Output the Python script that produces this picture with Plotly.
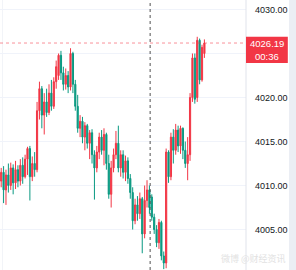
import plotly.graph_objects as go

# ---- data ----
opens = [4010.5, 4011.5, 4009.5, 4011.2, 4010.0, 4012.0, 4010.3, 4011.8, 4010.5, 4012.3,
         4011.0, 4013.0, 4014.2, 4011.0, 4012.5, 4011.8, 4018.5, 4021.0, 4018.0, 4019.5,
         4018.3, 4020.5, 4019.0, 4021.8, 4022.5, 4024.8, 4022.8, 4021.5, 4022.5, 4021.2,
         4025.0, 4021.5, 4019.0, 4016.5, 4017.3, 4015.5, 4016.8, 4014.8, 4016.0, 4013.5,
         4012.0, 4013.8, 4015.5, 4014.0, 4015.8, 4012.5, 4009.0, 4012.0, 4013.5, 4014.8,
         4012.0, 4013.5, 4011.5, 4012.8, 4010.8, 4009.2, 4006.0, 4007.8, 4006.8, 4008.5,
         4004.5, 4008.3, 4009.5, 4008.7, 4006.4, 4005.0, 4003.5, 4005.8, 4002.0, 4001.2,
         4013.8, 4011.0, 4015.5, 4014.0, 4016.3, 4014.5, 4016.5, 4014.0, 4012.5, 4013.5,
         4020.0, 4024.5, 4020.0, 4026.5, 4022.0, 4025.0]
highs = [4012.0, 4012.2, 4011.8, 4012.5, 4012.6, 4012.4, 4012.8, 4012.3, 4013.0, 4013.2,
         4013.5, 4014.4, 4014.5, 4013.3, 4013.8, 4019.5, 4021.8, 4021.3, 4020.5, 4021.0,
         4021.5, 4022.0, 4022.3, 4024.2, 4025.0, 4025.3, 4023.5, 4023.3, 4023.0, 4025.6,
         4025.2, 4022.0, 4020.3, 4018.0, 4017.8, 4017.2, 4017.0, 4016.3, 4016.4, 4014.0,
         4014.5, 4016.0, 4016.3, 4016.5, 4016.0, 4013.5, 4012.8, 4014.2, 4016.2, 4016.8,
         4014.0, 4014.0, 4013.4, 4013.2, 4011.3, 4009.8, 4008.5, 4008.8, 4009.2, 4008.7,
         4010.0, 4010.6, 4010.0, 4009.0, 4006.8, 4005.5, 4006.2, 4006.0, 4002.5, 4014.2,
         4014.0, 4016.0, 4016.4, 4017.0, 4016.8, 4016.8, 4016.6, 4015.0, 4015.5, 4020.5,
         4025.0, 4025.0, 4026.9, 4026.7, 4026.0, 4026.6]
lows = [4009.8, 4008.0, 4007.8, 4009.2, 4009.5, 4009.0, 4009.6, 4009.8, 4010.0, 4010.2,
        4010.8, 4011.2, 4008.3, 4010.5, 4011.0, 4011.5, 4017.5, 4016.5, 4015.8, 4017.8,
        4018.0, 4018.5, 4018.7, 4021.0, 4022.0, 4022.0, 4020.8, 4020.9, 4020.5, 4020.8,
        4020.5, 4018.5, 4016.0, 4015.5, 4014.8, 4014.0, 4014.2, 4013.0, 4012.5, 4008.4,
        4011.5, 4013.0, 4013.5, 4012.3, 4011.8, 4008.5, 4007.5, 4011.5, 4013.0, 4011.5,
        4011.0, 4010.8, 4010.5, 4010.2, 4008.5, 4005.0, 4005.6, 4006.0, 4006.2, 4002.3,
        4004.0, 4007.5, 4006.8, 4006.0, 4004.5, 4003.0, 4002.8, 4001.5, 4000.5, 4000.6,
        4010.3, 4010.6, 4012.5, 4013.5, 4013.8, 4013.6, 4013.0, 4012.0, 4010.6, 4012.8,
        4019.5, 4019.3, 4019.5, 4021.5, 4021.8, 4024.5]
closes = [4011.5, 4009.5, 4011.2, 4010.0, 4012.0, 4010.3, 4011.8, 4010.5, 4012.3, 4011.0,
          4013.0, 4014.2, 4011.0, 4012.5, 4011.8, 4018.5, 4021.0, 4018.0, 4019.5, 4018.3,
          4020.5, 4019.0, 4021.8, 4023.5, 4024.8, 4022.8, 4021.5, 4022.5, 4021.2, 4025.0,
          4021.5, 4019.0, 4016.5, 4017.3, 4015.5, 4016.8, 4014.8, 4016.0, 4013.5, 4012.0,
          4013.8, 4015.5, 4014.0, 4015.8, 4012.5, 4009.0, 4012.0, 4013.5, 4014.8, 4012.0,
          4013.5, 4011.5, 4012.8, 4010.8, 4009.2, 4006.0, 4007.8, 4006.8, 4008.5, 4004.5,
          4008.3, 4009.5, 4007.5, 4006.4, 4005.0, 4003.5, 4005.8, 4002.0, 4001.2, 4013.8,
          4011.0, 4015.5, 4014.0, 4016.3, 4014.5, 4016.5, 4014.0, 4012.5, 4013.5, 4020.0,
          4024.5, 4019.8, 4026.5, 4022.0, 4025.7, 4026.19]
bar_index = list(range(len(closes)))
price_ticks = [4005, 4010, 4015, 4020, 4025, 4030]
price_tick_text = ["4005.00", "4010.00", "4015.00", "4020.00", "", "4030.00"]
session_break = 62.3
countdown = "00:36"
watermark = "微博 @财经资讯"

UP = "#F23645"
DOWN = "#089981"
last = closes[-1]

fig = go.Figure(go.Candlestick(
    x=bar_index, open=opens, high=highs, low=lows, close=closes,
    increasing=dict(line=dict(color=UP, width=1), fillcolor=UP),
    decreasing=dict(line=dict(color=DOWN, width=1), fillcolor=DOWN),
    whiskerwidth=0, showlegend=False, hoverinfo="skip",
))

shapes = [
    dict(type="rect", xref="paper", yref="paper", x0=1.175, x1=1.21, y0=0, y1=1,
         fillcolor="#EBEEF4", line=dict(width=0), layer="below"),
    dict(type="line", xref="paper", yref="paper", x0=1.0, x1=1.0, y0=0, y1=1,
         line=dict(color="#E0E3EB", width=1)),
    dict(type="line", xref="x", yref="paper", x0=session_break, x1=session_break, y0=0, y1=1,
         line=dict(color="#505050", width=1, dash="3px,3px")),
    dict(type="line", xref="paper", yref="y", x0=0, x1=1, y0=last, y1=last,
         line=dict(color="rgba(242,54,69,0.55)", width=1, dash="dot")),
    dict(type="rect", xref="paper", yref="y", x0=1.0, x1=1.17, y0=last - 2.27, y1=last + 0.7,
         fillcolor=UP, line=dict(width=0)),
]

annotations = [
    dict(xref="paper", yref="y", x=1.085, y=last - 0.1, text=f"{last:.2f}", showarrow=False,
         font=dict(color="white", size=9.5, family="Liberation Sans"), xanchor="center", yanchor="middle"),
    dict(xref="paper", yref="y", x=1.085, y=last - 1.55, text=countdown, showarrow=False,
         font=dict(color="white", size=9.5, family="Liberation Sans"), xanchor="center", yanchor="middle"),
    dict(xref="paper", yref="paper", x=1.17, y=0.01, text=watermark, showarrow=False,
         font=dict(color="#E2E2E2", size=9, family="Noto Sans CJK SC"), xanchor="right", yanchor="bottom"),
]

fig.update_layout(
    width=296, height=270,
    margin=dict(l=0, r=50, t=0, b=0),
    paper_bgcolor="white", plot_bgcolor="white",
    shapes=shapes, annotations=annotations,
    xaxis=dict(range=[-0.5, 102.4], rangeslider=dict(visible=False), showticklabels=False,
               tickvals=[0.75], showgrid=True, gridcolor="#F2F4F8", zeroline=False, showline=False),
    yaxis=dict(side="right", range=[4000.4, 4031.08], tickvals=price_ticks, ticktext=price_tick_text,
               showgrid=True, gridcolor="#F0F3FA", zeroline=False, showline=False,
               ticks="", ticklabelstandoff=8,
               tickfont=dict(color="#131722", size=9, family="Liberation Sans")),
)

fig.write_html("out.html")
